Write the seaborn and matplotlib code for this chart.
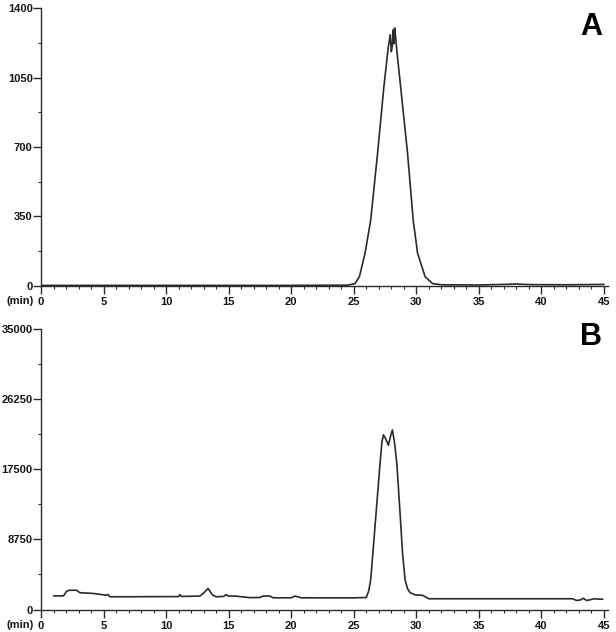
import matplotlib
matplotlib.use('Agg')
import matplotlib.pyplot as plt
import seaborn as sns
from matplotlib.ticker import MultipleLocator

# -----------------------------
# DATA
# -----------------------------
time_a = [0, 5, 10, 15, 20, 24.5, 25.1, 25.45, 25.9, 26.35, 26.9, 27.4, 27.75,
          27.85, 27.92, 28.0, 28.08, 28.15, 28.2, 28.27, 28.35, 28.45, 28.75,
          29.3, 29.75, 30.1, 30.7, 31.3, 32, 35, 37, 38, 39, 42, 45]
signal_a = [3, 3, 3, 3, 3, 4, 12, 47, 165, 331, 667, 1000, 1200,
            1240, 1265, 1180, 1210, 1290, 1220, 1300, 1250, 1180, 1000,
            667, 331, 165, 47, 12, 6, 5, 8, 10, 7, 6, 8]

time_b = [1.0, 1.8, 2.05, 2.3, 2.85, 3.1, 4.2, 5.0, 5.2, 5.35, 5.5, 7, 10,
          11.0, 11.1, 11.25, 12.7, 13.0, 13.35, 13.7, 14.0, 14.6, 14.78, 15.0,
          15.5, 16.7, 17.5, 17.75, 18.3, 18.55, 20.0, 20.3, 20.8, 22.5, 25.0,
          26.0, 26.2, 26.35, 26.55, 26.78, 27.1, 27.25, 27.37, 27.55, 27.77,
          27.95, 28.09, 28.25, 28.44, 28.7, 28.9, 29.1, 29.3, 29.5, 29.9,
          30.5, 31.0, 35.0, 40.0, 42.5, 42.8, 43.1, 43.35, 43.6, 43.8, 44.2,
          44.6, 44.9]
signal_b = [1700, 1700, 2300, 2400, 2400, 2100, 2000, 1830, 1770, 1880, 1590,
            1590, 1610, 1610, 1850, 1630, 1680, 2050, 2630, 1830, 1590, 1630,
            1850, 1670, 1680, 1480, 1500, 1680, 1680, 1460, 1460, 1680, 1460,
            1450, 1450, 1500, 2360, 3700, 7500, 12000, 18250, 20900, 21800,
            21300, 20500, 21700, 22400, 20900, 18250, 12000, 7000, 3700, 2580,
            2100, 1830, 1770, 1340, 1340, 1340, 1340, 1130, 1180, 1400, 1130,
            1180, 1340, 1290, 1290]

yticks_a = [0, 350, 700, 1050, 1400]
yticks_b = [0, 8750, 17500, 26250, 35000]
xticks = [0, 5, 10, 15, 20, 25, 30, 35, 40, 45]

# -----------------------------
# STYLE
# -----------------------------
sns.set_style("ticks")
plt.rcParams['font.family'] = ['Liberation Sans', 'DejaVu Sans']

ink = '#2a2a2a'
label_ink = '#151515'

fig = plt.figure(figsize=(6.16, 6.32), dpi=100)
ax_a = fig.add_axes([0.0666, 0.5475, 0.920, 0.4398])
ax_b = fig.add_axes([0.0666, 0.0356, 0.920, 0.4438])

panels = [
    (ax_a, time_a, signal_a, yticks_a, 'A', 1 - 35 / 632),
    (ax_b, time_b, signal_b, yticks_b, 'B', 1 - 345 / 632),
]

for ax, t, s, yt, tag, tag_y in panels:
    sns.lineplot(x=t, y=s, ax=ax, color=ink, linewidth=1.2, sort=False)

    ax.set_xlim(0, 45.3)
    ax.set_ylim(yt[0], yt[-1])
    ax.set_xticks(xticks)
    ax.set_yticks(yt)
    ax.xaxis.set_minor_locator(MultipleLocator(1))
    ax.yaxis.set_minor_locator(MultipleLocator((yt[1] - yt[0]) / 2))

    sns.despine(ax=ax)
    for side in ['left', 'bottom']:
        ax.spines[side].set_color(ink)
        ax.spines[side].set_linewidth(1.0)

    ax.tick_params(which='major', direction='out', length=5.5, width=1.0,
                   color=ink, labelcolor=label_ink, labelsize=8)
    ax.tick_params(axis='y', which='major', pad=0.5)
    ax.tick_params(axis='x', which='major', pad=2.5)
    ax.tick_params(which='minor', direction='out', length=2, width=0.8,
                   color=ink)
    for lab in ax.get_xticklabels() + ax.get_yticklabels():
        lab.set_fontweight('bold')
    ax.set_xlabel('')
    ax.set_ylabel('')

    ax.annotate('(min)', xy=(0, 0), xycoords=ax.get_xaxis_transform(),
                xytext=(-5, -7.4), textcoords='offset points',
                ha='right', va='top', fontsize=8, fontweight='bold',
                color=label_ink)

    # panel letter, placed by its baseline
    fig.text(602 / 616, tag_y, tag, ha='right', va='baseline',
             fontsize=22, fontweight='bold', color='black')

fig.savefig('out.png', dpi=100)
plt.close(fig)
